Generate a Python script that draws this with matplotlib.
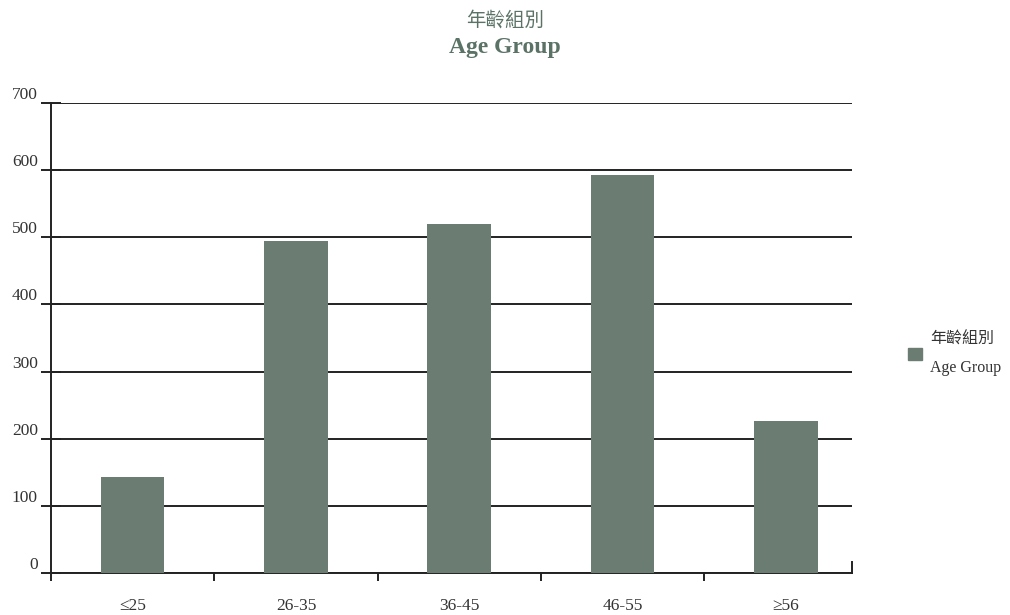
import matplotlib.pyplot as plt
from matplotlib.patches import Patch

plt.rcParams['font.family'] = ['Liberation Serif', 'Noto Sans CJK TC', 'DejaVu Sans']

# 資料
groups = ['≤25', '26-35', '36-45', '46-55', '≥56']
counts = [143, 495, 520, 593, 226]
yticks = [0, 100, 200, 300, 400, 500, 600, 700]

bar_color = '#6b7d73'
title_color = '#5b7266'

fig = plt.figure(figsize=(10.1, 6.15), dpi=100)
ax = fig.add_axes([0.0505, 0.0683, 0.793, 0.7642])

x = list(range(len(groups)))
ax.bar(x, counts, width=0.39, color=bar_color, zorder=3)

ax.set_xlim(-0.5, 4.405)
ax.set_ylim(0, 700)

# 格線
ax.set_yticks(yticks)
ax.yaxis.grid(True, color='#222222', linewidth=1.4, zorder=1)
ax.set_axisbelow(True)

ax.spines['top'].set_visible(False)
ax.spines['right'].set_bounds(0, 16)
for s in ['left', 'bottom', 'right']:
    ax.spines[s].set_linewidth(1.4)
    ax.spines[s].set_color('#222222')

ax.tick_params(axis='y', direction='inout', length=14, width=1.4, pad=2.5,
               labelsize=12.5, labelcolor='#333333', color='#222222')
for lbl in ax.get_yticklabels():
    lbl.set_va('bottom')

ax.set_xticks(x)
ax.set_xticklabels(groups, family=['Liberation Serif', 'DejaVu Sans'])
ax.tick_params(axis='x', which='major', length=0, pad=18, labelsize=12.5,
               labelcolor='#333333')
ax.set_xticks([-0.5, 0.5, 1.5, 2.5, 3.5], minor=True)
ax.tick_params(axis='x', which='minor', direction='out', length=6, width=1.4,
               color='#222222')

fig.text(0.5, 0.968, '年齡組別', ha='center', va='center', fontsize=14,
         color=title_color, family=['Noto Sans CJK TC'], fontweight='medium')
fig.text(0.5, 0.922, 'Age Group', ha='center', va='center', fontsize=17,
         fontweight='bold', color=title_color)

leg = fig.legend(handles=[Patch(color=bar_color)], labels=['年齡組別\nAge Group'],
                 loc='center left', bbox_to_anchor=(0.885, 0.425), frameon=False,
                 fontsize=11.5, handlelength=0.85, handleheight=0.85,
                 handletextpad=0.5, labelcolor='#333333')
leg.get_texts()[0].set_linespacing(2.0)

fig.savefig('out.png', dpi=100)
